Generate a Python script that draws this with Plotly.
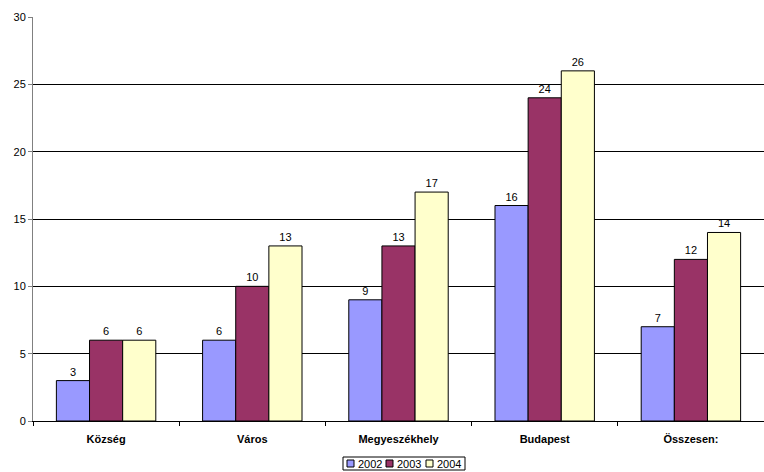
import plotly.graph_objects as go

categories = ["Község", "Város", "Megyeszékhely", "Budapest", "Összesen:"]
years = ["2002", "2003", "2004"]
values_2002 = [3, 6, 9, 16, 7]
values_2003 = [6, 10, 13, 24, 12]
values_2004 = [6, 13, 17, 26, 14]
colors = ["#9999FF", "#993366", "#FFFFCC"]
y_ticks = [0, 5, 10, 15, 20, 25, 30]

font_family = "Arial, Liberation Sans, sans-serif"

# plot area in pixels: used to place the compact legend box below the axis
W, H = 764, 472
L, R, T, B = 33, 0, 17, 51
PW, PH = W - L - R, H - T - B


def px_x(px):
    return (px - L) / PW


def px_y(py):
    return (H - B - py) / PH


fig = go.Figure()
for year, vals, col in zip(years, [values_2002, values_2003, values_2004], colors):
    fig.add_trace(go.Bar(
        x=categories, y=vals, name=year,
        marker=dict(color=col, line=dict(color="#000000", width=1)),
        text=[str(v) for v in vals], textposition="outside",
        textfont=dict(size=11, color="#000000", family=font_family),
        cliponaxis=False,
    ))

# compact legend: framed box with small swatches and year labels
shapes = [dict(type="rect", xref="paper", yref="paper",
               x0=px_x(343), x1=px_x(465), y0=px_y(470), y1=px_y(457),
               line=dict(color="#000000", width=1), fillcolor="white")]
annotations = []
swatch_x = [347, 386, 426]
for sx, year, col in zip(swatch_x, years, colors):
    shapes.append(dict(type="rect", xref="paper", yref="paper",
                       x0=px_x(sx), x1=px_x(sx + 7), y0=px_y(467), y1=px_y(460),
                       line=dict(color="#000000", width=1), fillcolor=col))
    annotations.append(dict(x=px_x(sx + 9), y=px_y(463.5), xref="paper", yref="paper",
                            text=year, showarrow=False, xanchor="left", yanchor="middle",
                            font=dict(size=11, family=font_family, color="#000000")))

fig.update_layout(
    width=W, height=H,
    margin=dict(l=L, r=R, t=T, b=B, autoexpand=False),
    paper_bgcolor="white", plot_bgcolor="white",
    barmode="group", bargap=0.32, bargroupgap=0,
    font=dict(family=font_family, size=11, color="#000000"),
    showlegend=False,
    shapes=shapes, annotations=annotations,
)
fig.update_xaxes(
    showline=True, linecolor="#000000", linewidth=1,
    ticks="outside", ticklen=4, tickcolor="#000000", tickson="boundaries",
    tickfont=dict(size=11, family=font_family, weight="bold"),
    ticklabelstandoff=8,
    showgrid=False,
)
fig.update_yaxes(
    range=[0, 30], tickvals=y_ticks,
    showline=True, linecolor="#808080", linewidth=1,
    ticks="outside", ticklen=4, tickcolor="#808080",
    showgrid=True, gridcolor="#000000", gridwidth=1,
    tickfont=dict(size=11, family=font_family),
    zeroline=False,
)

fig.write_html("out.html")
